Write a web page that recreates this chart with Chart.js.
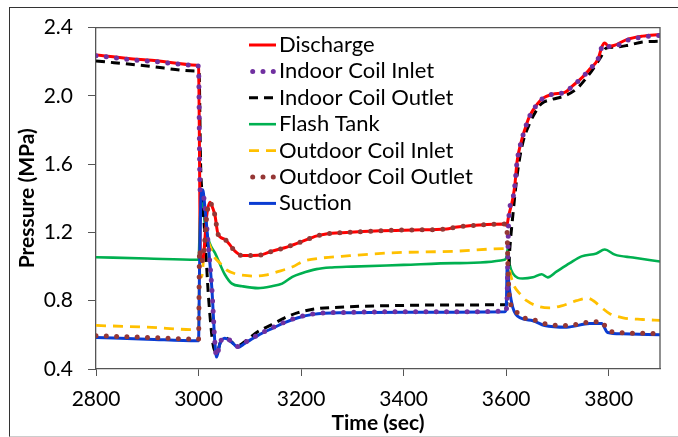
<!DOCTYPE html>
<html>
<head>
<meta charset="utf-8">
<script src="https://cdn.jsdelivr.net/npm/chart.js@4.4.1/dist/chart.umd.min.js"></script>
<style>
  html,body{margin:0;padding:0;background:#fff;overflow:hidden;}
  #frame{position:absolute;left:9px;top:7px;width:700px;height:428px;border:1px solid #333;border-bottom-color:#ccc;}
  #wrap{position:absolute;left:0;top:0;width:678px;height:437px;}
</style>
</head>
<body>
<div id="frame"></div>
<div id="wrap"><canvas id="chart" width="678" height="437"></canvas></div>
<script>
// values (time in sec, pressure in MPa)
const seriesNames=["Discharge","Indoor Coil Inlet","Indoor Coil Outlet","Flash Tank","Outdoor Coil Inlet","Outdoor Coil Outlet","Suction"];
const xTicks=[2800,3000,3200,3400,3600,3800];
const yTicks=[0.4,0.8,1.2,1.6,2.0,2.4];

const dischargeT=[2800,2900,2997,3000,3004,3009,3016,3022,3028,3032,3038,3051,3063,3071,3085,3105,3124,3143,3168,3200,3231,3260,3289,3354,3420,3484,3500,3549,3597,3601,3605,3613,3617,3621,3630,3636,3644,3652,3669,3691,3714,3730,3749,3763,3779,3787,3792,3800,3810,3835,3866,3900];
const dischargeP=[2.24,2.21,2.18,2.17,1.03,1.05,1.30,1.377,1.34,1.30,1.19,1.16,1.12,1.09,1.065,1.065,1.07,1.09,1.11,1.145,1.18,1.195,1.20,1.21,1.215,1.22,1.23,1.244,1.25,1.24,1.30,1.40,1.48,1.61,1.74,1.80,1.87,1.915,1.98,2.01,2.02,2.06,2.11,2.157,2.215,2.29,2.31,2.29,2.295,2.33,2.35,2.36];

const inletT=[2800,2900,2997,3000,3003,3008,3012,3018,3026,3032,3035,3042,3051,3065,3077,3090,3116,3143,3168,3194,3223,3289,3400,3500,3597,3601,3605,3613,3617,3621,3630,3636,3644,3652,3669,3691,3714,3730,3749,3763,3779,3787,3792,3800,3810,3835,3866,3900];
const inletP=[2.235,2.205,2.178,2.17,1.45,1.44,1.36,1.16,0.87,0.55,0.475,0.555,0.585,0.56,0.532,0.555,0.60,0.64,0.675,0.703,0.722,0.732,0.735,0.735,0.738,0.76,1.28,1.40,1.48,1.61,1.74,1.80,1.87,1.915,1.98,2.01,2.02,2.06,2.11,2.157,2.215,2.29,2.30,2.29,2.29,2.325,2.345,2.355];

const outletT=[2800,2900,2997,3001,3004,3007,3012,3020,3030,3036,3043,3051,3060,3070,3080,3090,3116,3143,3168,3194,3223,3289,3354,3484,3597,3601,3607,3613,3622,3632,3646,3660,3669,3690,3714,3737,3755,3770,3785,3795,3810,3835,3866,3900];
const outletP=[2.205,2.175,2.145,2.14,1.6,1.42,1.2,0.8,0.52,0.50,0.56,0.585,0.57,0.545,0.54,0.56,0.62,0.66,0.70,0.73,0.75,0.764,0.77,0.775,0.776,0.78,1.10,1.30,1.55,1.72,1.84,1.92,1.955,1.98,2.0,2.04,2.10,2.16,2.23,2.28,2.285,2.295,2.315,2.32];

const flashT=[2800,2900,2997,3000,3003,3006,3009,3012,3022,3032,3042,3051,3065,3085,3116,3143,3163,3183,3200,3230,3260,3300,3400,3500,3597,3601,3603,3607,3613,3632,3652,3669,3681,3698,3724,3747,3776,3792,3812,3847,3900];
const flashP=[1.055,1.047,1.04,1.04,1.30,1.43,1.35,1.26,1.135,1.08,1.013,0.955,0.90,0.885,0.874,0.885,0.90,0.94,0.96,0.985,0.995,1.0,1.01,1.02,1.04,1.06,1.105,1.01,0.96,0.93,0.937,0.955,0.937,0.97,1.02,1.06,1.077,1.10,1.07,1.053,1.03];

const odInletT=[2800,2900,2997,3000,3002,3006,3010,3015,3020,3030,3042,3055,3075,3095,3110,3130,3160,3185,3203,3240,3279,3373,3500,3597,3601,3606,3614,3627,3640,3665,3685,3708,3737,3759,3770,3786,3802,3828,3866,3900];
const odInletP=[0.655,0.645,0.63,0.63,0.95,0.94,1.05,1.17,1.14,1.06,1.02,0.98,0.955,0.947,0.944,0.95,0.975,1.0,1.03,1.05,1.06,1.08,1.09,1.105,1.10,0.99,0.897,0.84,0.80,0.765,0.758,0.77,0.80,0.815,0.80,0.76,0.724,0.70,0.69,0.685];

const odOutletT=[2800,2900,2997,3000,3002,3005,3009,3016,3022,3028,3032,3038,3051,3063,3071,3085,3105,3124,3143,3168,3200,3231,3260,3289,3354,3420,3484,3500,3549,3597,3601,3604,3607,3613,3627,3652,3675,3718,3763,3786,3798,3827,3900];
const odOutletP=[0.595,0.585,0.575,0.575,1.1,1.03,1.05,1.30,1.377,1.34,1.30,1.19,1.16,1.12,1.09,1.065,1.065,1.07,1.09,1.11,1.145,1.18,1.195,1.20,1.21,1.215,1.22,1.23,1.244,1.25,1.24,0.95,0.80,0.765,0.71,0.69,0.665,0.655,0.675,0.678,0.628,0.612,0.608];

const suctionT=[2800,2900,2997,3000,3002,3005,3008,3012,3018,3026,3032,3035,3042,3051,3065,3077,3090,3116,3143,3168,3194,3223,3289,3400,3500,3597,3600,3602,3606,3613,3627,3652,3675,3718,3763,3786,3798,3827,3900];
const suctionP=[0.585,0.575,0.565,0.565,1.0,1.42,1.45,1.36,1.16,0.87,0.55,0.47,0.55,0.58,0.556,0.527,0.55,0.597,0.637,0.672,0.70,0.72,0.73,0.733,0.733,0.735,0.75,1.0,0.876,0.76,0.70,0.683,0.655,0.645,0.666,0.666,0.614,0.606,0.60];

function pts(t,p){ return t.map((x,i)=>({x:x,y:p[i]})); }

const styles=[
  {c:"#FF0000",w:3,dash:[],cap:"butt",order:4},
  {c:"#7030A0",w:5,dash:[0,10.3],cap:"round",order:2},
  {c:"#000000",w:3,dash:[9,6],cap:"butt",order:5},
  {c:"#00B050",w:2.6,dash:[],cap:"butt",order:7},
  {c:"#FFC000",w:2.8,dash:[10,7],cap:"butt",order:6},
  {c:"#953735",w:5,dash:[0,10.3],cap:"round",order:1},
  {c:"#0A3CD2",w:3,dash:[],cap:"butt",order:3}
];
const seriesData=[pts(dischargeT,dischargeP),pts(inletT,inletP),pts(outletT,outletP),pts(flashT,flashP),pts(odInletT,odInletP),pts(odOutletT,odOutletP),pts(suctionT,suctionP)];

const datasets=seriesNames.map((n,i)=>({
  label:n,data:seriesData[i],borderColor:styles[i].c,backgroundColor:styles[i].c,
  borderWidth:styles[i].w,borderDash:styles[i].dash,borderCapStyle:styles[i].cap,borderJoinStyle:"round",
  pointRadius:0,cubicInterpolationMode:"monotone",order:styles[i].order,fill:false
}));

// legend drawn inside the plot, plus box lines on top/right
const boxAndLegend={
  id:"boxAndLegend",
  afterDatasetsDraw(chart){
    const ctx=chart.ctx, a=chart.chartArea;
    ctx.save();
    ctx.strokeStyle="#555"; ctx.lineWidth=1.3;
    ctx.beginPath(); ctx.moveTo(a.left,a.top); ctx.lineTo(a.right,a.top); ctx.lineTo(a.right,a.bottom); ctx.stroke();
    ctx.font="22px Lato"; ctx.textBaseline="middle"; ctx.fillStyle="#000";
    seriesNames.forEach((n,i)=>{
      const y=45+i*26.4, s=styles[i];
      ctx.strokeStyle=s.c; ctx.lineWidth=s.w; ctx.setLineDash(s.dash); ctx.lineCap=s.cap;
      ctx.beginPath();
      if(s.cap==="round"){ ctx.moveTo(252.7,y); ctx.lineTo(274,y); }
      else { ctx.moveTo(249,y); ctx.lineTo(276,y); }
      ctx.stroke();
      ctx.setLineDash([]);
      ctx.fillText(n,279,y);
    });
    ctx.restore();
  }
};

new Chart(document.getElementById("chart").getContext("2d"),{
  type:"line",
  data:{datasets:datasets},
  options:{
    responsive:false,animation:false,
    layout:{padding:{top:23,right:18,left:0,bottom:0}},
    plugins:{legend:{display:false},tooltip:{enabled:false}},
    font:{family:"Lato"},
    scales:{
      x:{type:"linear",min:xTicks[0],max:3900,
        afterFit(s){s.height=68;},
        afterBuildTicks(s){s.ticks=xTicks.map(v=>({value:v}));},
        ticks:{font:{family:"Lato",size:21},color:"#000",padding:11,callback:v=>String(v)},
        grid:{drawOnChartArea:false,drawTicks:true,tickLength:7,tickColor:"#555"},
        border:{color:"#555",width:1.3},
        title:{display:true,text:"Time (sec)",color:"#000",font:{family:"Lato",size:21,weight:"bold"},padding:{top:0,bottom:1}}
      },
      y:{min:yTicks[0],max:yTicks[yTicks.length-1],
        afterFit(s){s.width=96;},
        afterBuildTicks(s){s.ticks=yTicks.map(v=>({value:v}));},
        ticks:{font:{family:"Lato",size:21},color:"#000",padding:15,callback:v=>v.toFixed(1)},
        grid:{drawOnChartArea:false,drawTicks:true,tickLength:8,tickColor:"#555"},
        border:{color:"#555",width:1.3},
        title:{display:true,text:"Pressure (MPa)",color:"#000",font:{family:"Lato",size:21,weight:"bold"},padding:{top:15,bottom:0}}
      }
    }
  },
  plugins:[boxAndLegend]
});
</script>
</body>
</html>
